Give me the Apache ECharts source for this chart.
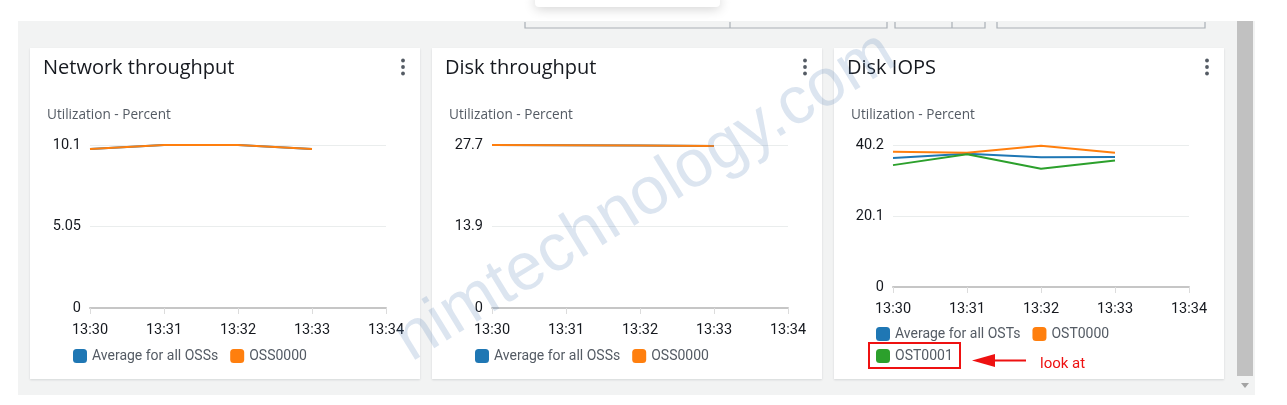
<!DOCTYPE html>
<html>
<head>
<meta charset="utf-8">
<script src="https://cdn.jsdelivr.net/npm/echarts@6/dist/echarts.min.js"></script>
<style>
html,body{margin:0;padding:0;background:#ffffff;}
#c{width:1287px;height:405px;}
</style>
</head>
<body>
<div id="c"></div>
<script>
// ---- data ----
var times = ['13:30', '13:31', '13:32', '13:33', '13:34'];
var panelTitles = ['Network throughput', 'Disk throughput', 'Disk IOPS'];
var unitLabel = 'Utilization - Percent';
var netAvg = [9.85, 10.1, 10.1, 9.85];
var netOss0000 = [9.85, 10.1, 10.1, 9.85];
var diskAvg = [27.7, 27.65, 27.6, 27.55];
var diskOss0000 = [27.7, 27.65, 27.6, 27.55];
var iopsAvg = [36.5, 37.7, 36.7, 36.8];
var iopsOst0000 = [38.3, 38.0, 40.0, 38.0];
var iopsOst0001 = [34.5, 37.6, 33.5, 35.8];
var netYLabels = ['0', '5.05', '10.1'];
var diskYLabels = ['0', '13.9', '27.7'];
var iopsYLabels = ['0', '20.1', '40.2'];
var yMaxes = [10.1, 27.7, 40.2];
var watermark = 'nimtechnology.com';
var noteText = 'look at';

var FONT = 'Roboto, Noto Sans, sans-serif';
var TFONT = 'Open Sans, Noto Sans, sans-serif';
var C_BLUE = '#1f77b4', C_ORANGE = '#ff7f0e', C_GREEN = '#2ca02c';

var chart = echarts.init(document.getElementById('c'), null, {renderer: 'canvas'});

var panelX = [30, 432, 834];
var gridLeft = [90, 492, 893];
var gridH = [163, 163, 142];
var yLabelSets = [netYLabels, diskYLabels, iopsYLabels];

var grids = [], xAxes = [], yAxes = [];
for (var i = 0; i < 3; i++) {
  grids.push({left: gridLeft[i], top: 145, width: 296, height: gridH[i], containLabel: false});
  xAxes.push({
    type: 'category', gridIndex: i, data: times, boundaryGap: false,
    axisLine: {show: true, lineStyle: {color: '#c6c6c6', width: 2}},
    axisTick: {show: true, length: 6, lineStyle: {color: '#dcdcdc', width: 1}},
    axisLabel: {color: '#16191f', fontSize: 14.5, fontFamily: FONT, margin: 15},
    splitLine: {show: false}
  });
  (function(labels, idx){
    yAxes.push({
      type: 'value', gridIndex: idx, min: 0, max: yMaxes[idx], interval: yMaxes[idx] / 2,
      axisLine: {show: false}, axisTick: {show: false},
      axisLabel: {color: '#16191f', fontSize: 14.5, fontFamily: FONT, margin: 9,
        formatter: function (v, k) { return labels[k] !== undefined ? labels[k] : ''; }},
      splitLine: {lineStyle: {color: '#eaeded', width: 1}}
    });
  })(yLabelSets[i], i);
}

function line(name, data, color, gi) {
  return {name: name, type: 'line', xAxisIndex: gi, yAxisIndex: gi, data: data,
    symbol: 'none', showSymbol: false, color: color,
    lineStyle: {color: color, width: 2}, z: 3};
}

var series = [
  line('Average for all OSSs', netAvg, C_BLUE, 0),
  line('OSS0000', netOss0000, C_ORANGE, 0),
  line('Average for all OSSs', diskAvg, C_BLUE, 1),
  line('OSS0000', diskOss0000, C_ORANGE, 1),
  line('Average for all OSTs', iopsAvg, C_BLUE, 2),
  line('OST0000', iopsOst0000, C_ORANGE, 2),
  line('OST0001', iopsOst0001, C_GREEN, 2)
];

function legend(left, top, data) {
  return {left: left, top: top, orient: 'horizontal', data: data, icon: 'roundRect',
    itemWidth: 14, itemHeight: 14, itemGap: 12, selectedMode: false,
    textStyle: {color: '#545b64', fontSize: 14, fontFamily: FONT, padding: [0, 0, 0, 0]},
    padding: 0};
}

var legends = [
  legend(73, 349, ['Average for all OSSs', 'OSS0000']),
  legend(475, 349, ['Average for all OSSs', 'OSS0000']),
  legend(876, 327, ['Average for all OSTs', 'OST0000']),
  legend(876, 349, ['OST0001'])
];

// ---- decorations ----
var g = [];
g.push({type: 'rect', z: -100, shape: {x: 18, y: 21, width: 1237, height: 374}, style: {fill: '#f2f3f3'}});
g.push({type: 'rect', z: -99, shape: {x: 1237, y: 21, width: 16, height: 355}, style: {fill: '#c1c1c1'}});
g.push({type: 'polygon', z: -99, shape: {points: [[1241, 383], [1249, 383], [1245, 388]]}, style: {fill: '#a3a3a3'}});
g.push({type: 'polyline', z: -98, shape: {points: [[525, 22], [525, 28], [887, 28], [887, 22]]}, style: {stroke: '#a9b0b6', lineWidth: 1.2, fill: null}});
g.push({type: 'line', z: -98, shape: {x1: 730, y1: 22, x2: 730, y2: 28}, style: {stroke: '#a9b0b6', lineWidth: 1.2}});
g.push({type: 'polyline', z: -98, shape: {points: [[895, 22], [895, 28], [985, 28], [985, 22]]}, style: {stroke: '#a9b0b6', lineWidth: 1.2, fill: null}});
g.push({type: 'line', z: -98, shape: {x1: 952, y1: 22, x2: 952, y2: 28}, style: {stroke: '#a9b0b6', lineWidth: 1.2}});
g.push({type: 'polyline', z: -98, shape: {points: [[997, 22], [997, 28], [1205, 28], [1205, 22]]}, style: {stroke: '#a9b0b6', lineWidth: 1.2, fill: null}});
g.push({type: 'rect', z: -97, shape: {x: 535, y: -6, width: 185, height: 13, r: 4},
  style: {fill: '#ffffff', shadowBlur: 12, shadowColor: 'rgba(0,0,0,0.18)', shadowOffsetY: 2}});
for (var p = 0; p < 3; p++) {
  g.push({type: 'rect', z: -90, shape: {x: panelX[p], y: 48, width: 390, height: 331},
    style: {fill: '#ffffff', shadowBlur: 2, shadowColor: 'rgba(0,28,36,0.12)', shadowOffsetY: 1}});
  g.push({type: 'text', z: 10, x: panelX[p] + 13, y: 68,
    style: {text: panelTitles[p], font: '20px ' + TFONT, fill: '#16191f', textVerticalAlign: 'middle', textAlign: 'left'}});
  g.push({type: 'text', z: 10, x: panelX[p] + 17, y: 115,
    style: {text: unitLabel, font: '13.6px ' + TFONT, fill: '#545b64', textVerticalAlign: 'middle', textAlign: 'left'}});
  for (var d = 0; d < 3; d++) {
    g.push({type: 'circle', z: 10, shape: {cx: panelX[p] + 373, cy: 60.5 + d * 6.5, r: 1.9}, style: {fill: '#545b64'}});
  }
}
g.push({type: 'rect', z: 20, shape: {x: 869, y: 343, width: 91, height: 25}, style: {fill: null, stroke: '#ee1111', lineWidth: 2}});
g.push({type: 'line', z: 20, shape: {x1: 993, y1: 360.5, x2: 1026, y2: 360.5}, style: {stroke: '#ee1111', lineWidth: 2}});
g.push({type: 'polygon', z: 20, shape: {points: [[972, 360.5], [995, 354], [995, 367]]}, style: {fill: '#ee1111'}});
g.push({type: 'text', z: 20, x: 1040, y: 364,
  style: {text: noteText, font: '15px ' + FONT, fill: '#ee1111', textVerticalAlign: 'middle', textAlign: 'left'}});
g.push({type: 'text', z: 100, x: 384, y: 318, rotation: 31.5 * Math.PI / 180,
  style: {text: watermark, font: '67px Liberation Sans, Arial, sans-serif', fill: 'rgba(80,125,180,0.2)',
    textVerticalAlign: 'alphabetic', textAlign: 'left'}});

chart.setOption({
  animation: false,
  backgroundColor: 'transparent',
  grid: grids, xAxis: xAxes, yAxis: yAxes,
  legend: legends,
  series: series,
  graphic: {elements: g}
});
</script>
</body>
</html>
